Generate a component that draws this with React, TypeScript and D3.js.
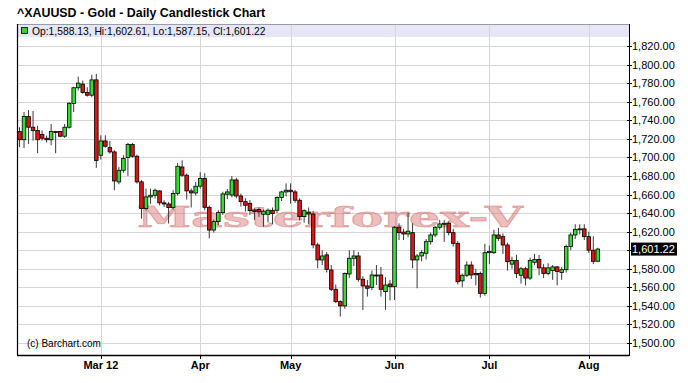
import React from "react";
import * as d3 from "d3";

// ---- Data ----
const startDate = "2012-02-06";
const skippedDates = ["2012-04-06"];

const opens = [
  1727.8, 1719, 1744, 1732.5, 1729, 1724.6, 1720.6, 1719, 1727.8, 1727.8, 1722.8, 1732.5, 1758, 1775, 1779, 1770, 1767, 1783.5,
  1702.3, 1717.7, 1710.5, 1705.9, 1673.6, 1686.1, 1699.8, 1713.8, 1701.2, 1673.6, 1644.8, 1657.4, 1659.2, 1663.9, 1651, 1649.8, 1645.9, 1661, 1689.7, 1680.8, 1663.9, 1661.7,
  1669, 1677.3, 1646.2, 1621.7, 1630.8, 1640.5, 1660.3, 1659.5, 1675.7, 1658.4, 1652.3, 1650.5, 1643.4, 1643.8, 1638.7, 1638.7, 1643, 1643, 1656.7, 1662.8,
  1664.6, 1662.8, 1653.8, 1636.2, 1641, 1639, 1605.7, 1589.5, 1595, 1578.7, 1557.9, 1544.6, 1540, 1574.4, 1591.3, 1593.8, 1568.7, 1561.5, 1560, 1573.3, 1573.3, 1555.4, 1563.6,
  1560.7, 1624.7, 1619.5, 1617.5, 1618.9, 1589.5, 1593.8, 1596.7, 1609.2, 1616.4, 1624.7, 1628.3, 1629, 1618.9, 1607.4, 1567, 1573, 1584, 1575, 1575, 1553.5,
  1597.3, 1597.3, 1616.4, 1614.6, 1605.6, 1585, 1589, 1573, 1580, 1570, 1587, 1590, 1581, 1575, 1578, 1582, 1576, 1579, 1604, 1616.4, 1622, 1623,
  1614.6, 1600, 1588.13,
];
const highs = [
  1732.5, 1749, 1751, 1750, 1734, 1729, 1723.5, 1736, 1728.5, 1728.5, 1736, 1759.4, 1776, 1787, 1782.8, 1775.6, 1789, 1790,
  1723.8, 1723.8, 1717.7, 1707.7, 1689.7, 1702.3, 1715.6, 1715.6, 1703, 1675.4, 1666.4, 1666.4, 1666.4, 1664.6, 1653.8, 1652, 1664.6, 1694, 1696.9, 1682.6, 1666.4, 1673.6,
  1684, 1683, 1648, 1633, 1643, 1663, 1666, 1680, 1678, 1661, 1656, 1654, 1645, 1646, 1643.8, 1645, 1646, 1658, 1664, 1672,
  1672, 1665, 1656, 1644, 1646, 1642, 1608, 1600, 1598, 1584, 1563, 1546, 1576, 1600, 1600, 1598, 1572, 1568, 1578, 1584, 1582, 1571, 1568,
  1626, 1629, 1623, 1640.5, 1629, 1596, 1600, 1612, 1619, 1626, 1632.6, 1632.6, 1631, 1623, 1610, 1575, 1588, 1588, 1580, 1577, 1607,
  1605, 1622, 1624, 1618, 1608, 1593, 1595, 1582, 1582, 1592, 1596, 1595, 1585, 1586, 1584, 1583, 1582, 1606, 1619, 1628, 1628, 1628,
  1620, 1615, 1602.61,
];
const lows = [
  1711, 1710, 1714.5, 1718, 1704.5, 1718, 1716, 1713, 1704.5, 1721.7, 1721, 1731, 1748.7, 1772, 1768.4, 1765.5, 1764.8, 1688.7,
  1697.6, 1710.5, 1704, 1664.6, 1671, 1683.3, 1680, 1699.8, 1671.8, 1634, 1643, 1650, 1655.6, 1648.4, 1646.6, 1628.7, 1643.8, 1659, 1679, 1654.5, 1646, 1659.2,
  1666.4, 1643, 1612.7, 1619, 1627, 1638, 1655, 1657, 1656, 1647, 1641.6, 1638, 1632.6, 1636, 1625.4, 1630, 1628, 1640, 1653, 1658,
  1650, 1651, 1632, 1629.7, 1628, 1602, 1580.5, 1584, 1576, 1556, 1543, 1528.5, 1537, 1570, 1583, 1566, 1535.6, 1550, 1557, 1562.5, 1550, 1535.6, 1546,
  1546.4, 1611, 1611, 1614, 1580.5, 1559, 1588, 1590, 1606, 1614, 1622, 1609, 1616, 1604, 1563, 1560, 1571, 1569, 1562, 1549, 1551,
  1585, 1596, 1610, 1596, 1578, 1580, 1570, 1564, 1562, 1568, 1584, 1573, 1570, 1573, 1568, 1562, 1568, 1576, 1600, 1612, 1617, 1611,
  1597, 1585, 1587.15,
];
const closes = [
  1719, 1744, 1732.5, 1729, 1719, 1720.6, 1719, 1727.8, 1727.5, 1722.8, 1732.5, 1758.3, 1775, 1780, 1770, 1767, 1783.5, 1696.6,
  1717.7, 1712, 1705.9, 1674.6, 1686.1, 1698.7, 1713.8, 1701.2, 1673.6, 1644.8, 1657.4, 1659.2, 1664.6, 1651, 1649.8, 1645.9, 1661, 1690.4, 1680.8, 1663.9, 1661.7, 1668.9,
  1677.3, 1646.2, 1621.7, 1630.8, 1640.5, 1660.6, 1662.8, 1675.7, 1658.4, 1652.3, 1648.4, 1642.6, 1641.6, 1641.3, 1642, 1643.1, 1639.5, 1656.7, 1662.8, 1664.6,
  1663, 1653.8, 1636.2, 1642.6, 1639, 1605.7, 1589.5, 1593.8, 1579.4, 1557.9, 1544.6, 1540, 1575, 1591.3, 1593.8, 1568.7, 1561.5, 1559, 1573.3, 1572.5, 1557.9, 1562.5, 1560.7,
  1624.7, 1618.9, 1617.5, 1620.5, 1589.5, 1593.8, 1597.4, 1609.2, 1616.4, 1624.7, 1628.3, 1629, 1618.9, 1607.4, 1566, 1573, 1584, 1573.3, 1573.5, 1553.5, 1597.3,
  1598.5, 1616.4, 1612.8, 1605.6, 1587.6, 1589, 1575, 1580, 1570, 1589, 1590, 1581, 1575, 1581, 1582, 1577, 1579, 1604, 1616.4, 1622.5, 1623, 1614.6,
  1600, 1588, 1601.22,
];

const yTicks = [1500, 1520, 1540, 1560, 1580, 1600, 1620, 1640, 1660, 1680, 1700, 1720, 1740, 1760, 1780, 1800, 1820];
const monthTickDates = ["2012-03-01", "2012-04-02", "2012-05-01", "2012-06-01", "2012-07-02", "2012-08-01"];
const monthTickLabels = ["Mar 12", "Apr", "May", "Jun", "Jul", "Aug"];

const titleText = "^XAUUSD - Gold - Daily Candlestick Chart";
const legendText = "Op:1,588.13, Hi:1,602.61, Lo:1,587.15, Cl:1,601.22";
const watermarkText = "Masterforex-V";
const creditText = "(c) Barchart.com";

// ---- Build trading dates ----
function tradingDates(n: number): string[] {
  const fmt = d3.timeFormat("%Y-%m-%d");
  const out: string[] = [];
  let d = d3.timeParse("%Y-%m-%d")(startDate) as Date;
  while (out.length < n) {
    const wd = d.getDay();
    const s = fmt(d);
    if (wd !== 0 && wd !== 6 && !skippedDates.includes(s)) out.push(s);
    d = d3.timeDay.offset(d, 1);
  }
  return out;
}

const W = 688;
const H = 383;
const L = 17, R = 629, T = 24, B = 355;
const FONT = "Arial, 'Liberation Sans', Helvetica, sans-serif";

export default function App() {
  const n = closes.length;
  const dates = tradingDates(n);
  const data = dates.map((date, i) => ({ date, o: opens[i], h: highs[i], l: lows[i], c: closes[i] }));

  const x = d3.scaleLinear().domain([-0.553, 134.9]).range([L, R]);
  const y = d3.scaleLinear().domain([1487.1, 1843.7]).range([B, T]);
  const fmtNum = d3.format(",.2f");

  const monthIdx = monthTickDates.map((md) => dates.indexOf(md));
  const bodyW = 3.6;
  const last = data[data.length - 1];

  return (
    <svg width={W} height={H} style={{ position: "fixed", left: 0, top: 0, background: "#fff" }}>
      <rect x={0} y={0} width={W} height={H} fill="#fff" />
      {/* title */}
      <text x={17} y={17} fontFamily={FONT} fontSize={12.4} fontWeight="bold" fill="#000">{titleText}</text>

      {/* legend band */}
      <rect x={L} y={T} width={R - L} height={13} fill="#e6e6f7" />

      {/* grid */}
      {yTicks.map((v) => (
        <line key={"gy" + v} x1={L} x2={R} y1={Math.round(y(v)) + 0.5} y2={Math.round(y(v)) + 0.5} stroke="#d6d6d6" strokeWidth={1} />
      ))}
      {monthIdx.map((mi, k) => (
        <line key={"gx" + k} x1={Math.round(x(mi)) + 0.5} x2={Math.round(x(mi)) + 0.5} y1={T} y2={B} stroke="#d6d6d6" strokeWidth={1} />
      ))}
      <line x1={L} x2={R} y1={T + 0.5} y2={T + 0.5} stroke="#9a9aa8" strokeWidth={1} />

      {/* legend */}
      <rect x={21.5} y={27.5} width={6} height={6} fill="#2fd82f" stroke="#000" strokeWidth={0.8} />
      <text x={32} y={34.5} fontFamily={FONT} fontSize={10.3} fill="#000">{legendText}</text>

      {/* watermark */}
      <text x={137} y={227} fontFamily="'DejaVu Serif', 'Liberation Serif', serif" fontWeight="bold" fontSize={27}
        textLength={386} lengthAdjust="spacingAndGlyphs" fill="#d96a6a" fillOpacity={0.45} stroke="#c04848" strokeOpacity={0.35} strokeWidth={0.8}>
        {watermarkText}
      </text>

      {/* candles */}
      {data.map((d, i) => {
        const cx = x(i);
        const up = d.c >= d.o;
        const top = y(Math.max(d.o, d.c));
        const bot = y(Math.min(d.o, d.c));
        return (
          <g key={d.date}>
            <line x1={cx} x2={cx} y1={y(d.h)} y2={y(d.l)} stroke="#3a3a3a" strokeWidth={1} />
            <rect x={cx - bodyW / 2} y={top} width={bodyW} height={Math.max(1, bot - top)}
              fill={up ? "#33dd33" : "#dd1515"} stroke="#000" strokeWidth={0.8} />
          </g>
        );
      })}

      {/* credit */}
      <text x={27} y={347} fontFamily={FONT} fontSize={10} fill="#000">{creditText}</text>

      {/* axes */}
      <line x1={L + 0.5} x2={L + 0.5} y1={T} y2={B} stroke="#000" strokeWidth={1.2} />
      <line x1={L} x2={R} y1={B + 0.5} y2={B + 0.5} stroke="#000" strokeWidth={1.5} />
      <line x1={R + 0.5} x2={R + 0.5} y1={T} y2={B + 1} stroke="#000" strokeWidth={1} />

      {yTicks.map((v) => (
        <g key={"ty" + v}>
          <line x1={R - 2} x2={R + 3} y1={Math.round(y(v)) + 0.5} y2={Math.round(y(v)) + 0.5} stroke="#000" />
          <text x={R + 3} y={y(v) + 4} fontFamily={FONT} fontSize={11} fill="#000">{fmtNum(v)}</text>
        </g>
      ))}

      {monthIdx.map((mi, k) => (
        <g key={"tx" + k}>
          <line x1={Math.round(x(mi)) + 0.5} x2={Math.round(x(mi)) + 0.5} y1={B} y2={B + 4} stroke="#000" />
          <text x={x(mi)} y={369} textAnchor="middle" fontFamily={FONT} fontSize={11} fontWeight="bold" fill="#000">{monthTickLabels[k]}</text>
        </g>
      ))}

      {/* last price marker */}
      <rect x={R + 2} y={y(last.c) - 6.5} width={46} height={13} fill="#000" />
      <text x={R + 3} y={y(last.c) + 4} fontFamily={FONT} fontSize={11} fill="#fff">{fmtNum(last.c)}</text>
    </svg>
  );
}
